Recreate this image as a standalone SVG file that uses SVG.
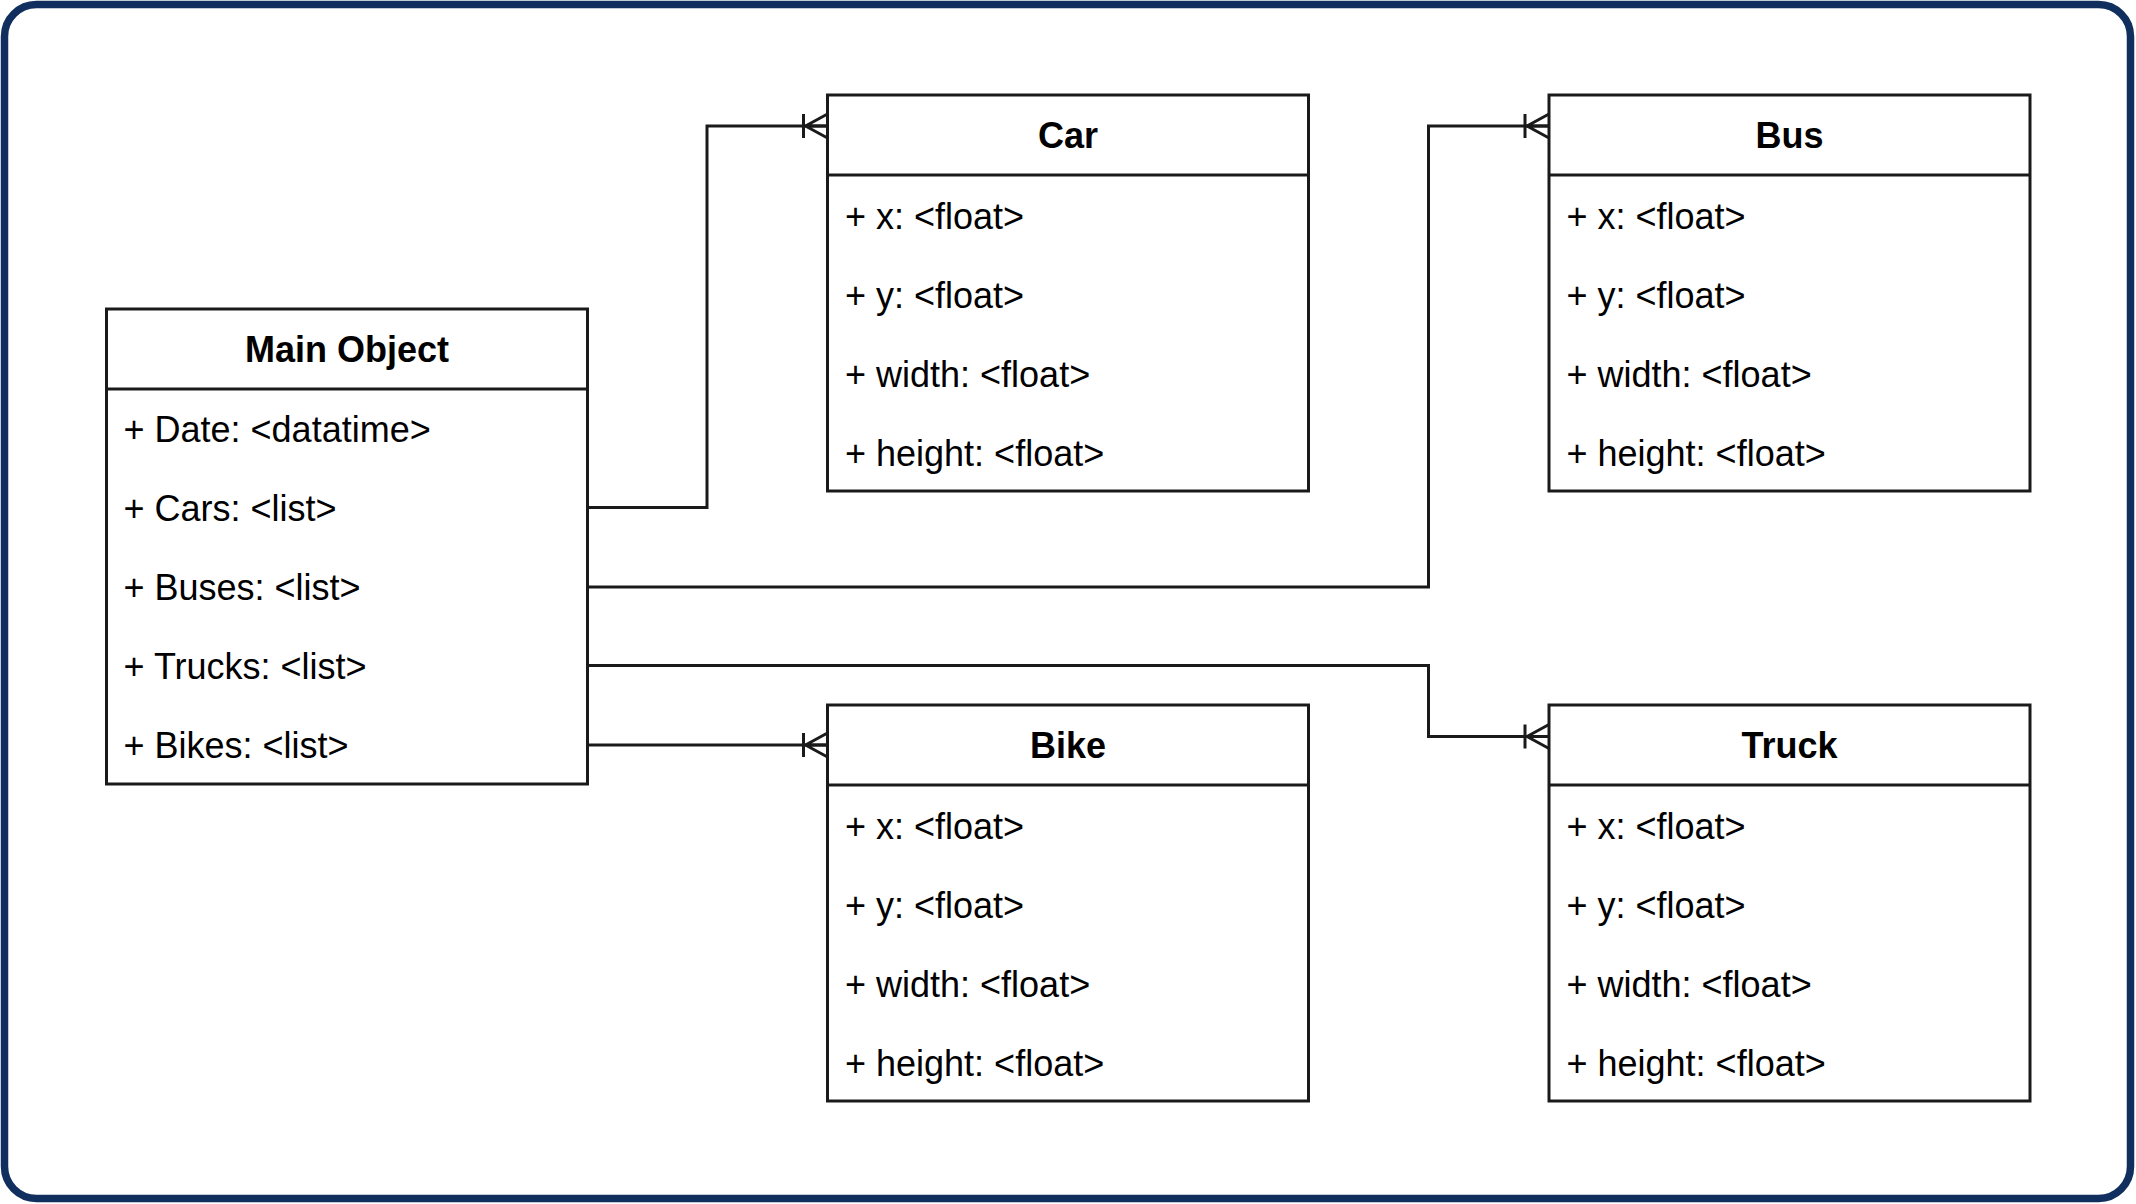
<svg xmlns="http://www.w3.org/2000/svg" width="2136" height="1204" viewBox="0 0 2136 1204">
  <style>
    .box { fill: #ffffff; stroke: #1a1a1a; stroke-width: 3; }
    .sep { stroke: #1a1a1a; stroke-width: 3; }
    .title { font-family: "Liberation Sans", Arial, sans-serif; font-size: 36px; font-weight: bold; fill: #000; text-anchor: middle; }
    .attr { font-family: "Liberation Sans", Arial, sans-serif; font-size: 36px; fill: #000; }
    .conn { fill: none; stroke: #1a1a1a; stroke-width: 3; }
  </style>
  <defs>
    <marker id="many" markerUnits="userSpaceOnUse" markerWidth="40" markerHeight="40" viewBox="-30 -20 40 40" refX="0" refY="0" orient="auto" overflow="visible">
      <path d="M-24,-12 V12 M-22,0 L0,-12 M-22,0 L0,0 M-22,0 L0,12" fill="none" stroke="#1a1a1a" stroke-width="3"/>
    </marker>
  </defs>
  <rect x="4.5" y="4.5" width="2126" height="1194" rx="32" ry="32" fill="#ffffff" stroke="#102e5e" stroke-width="7.5"/>

  <g id="connectors">
    <path class="conn" d="M587.5,507.5 H707 V126 H827.5" marker-end="url(#many)"/>
    <path class="conn" d="M587.5,587 H1428.5 V126 H1549" marker-end="url(#many)"/>
    <path class="conn" d="M587.5,665.5 H1428.5 V736.5 H1549" marker-end="url(#many)"/>
    <path class="conn" d="M587.5,745 H827.5" marker-end="url(#many)"/>
  </g>

  <g id="main-object">
    <rect class="box" x="106.5" y="309" width="481" height="475"/>
    <line class="sep" x1="106.5" y1="389" x2="587.5" y2="389"/>
    <text class="title" x="347" y="361.5">Main Object</text>
    <text class="attr" x="123.5" y="441.5">+ Date: &lt;datatime&gt;</text>
    <text class="attr" x="123.5" y="520.5">+ Cars: &lt;list&gt;</text>
    <text class="attr" x="123.5" y="599.5">+ Buses: &lt;list&gt;</text>
    <text class="attr" x="123.5" y="678.5">+ Trucks: &lt;list&gt;</text>
    <text class="attr" x="123.5" y="757.5">+ Bikes: &lt;list&gt;</text>
  </g>

  <g id="car">
    <rect class="box" x="827.5" y="95" width="481" height="396"/>
    <line class="sep" x1="827.5" y1="175" x2="1308.5" y2="175"/>
    <text class="title" x="1068" y="147.5">Car</text>
    <text class="attr" x="845" y="228.5">+ x: &lt;float&gt;</text>
    <text class="attr" x="845" y="307.5">+ y: &lt;float&gt;</text>
    <text class="attr" x="845" y="386.5">+ width: &lt;float&gt;</text>
    <text class="attr" x="845" y="465.5">+ height: &lt;float&gt;</text>
  </g>

  <g id="bus">
    <rect class="box" x="1549" y="95" width="481" height="396"/>
    <line class="sep" x1="1549" y1="175" x2="2030" y2="175"/>
    <text class="title" x="1789.5" y="147.5">Bus</text>
    <text class="attr" x="1566.5" y="228.5">+ x: &lt;float&gt;</text>
    <text class="attr" x="1566.5" y="307.5">+ y: &lt;float&gt;</text>
    <text class="attr" x="1566.5" y="386.5">+ width: &lt;float&gt;</text>
    <text class="attr" x="1566.5" y="465.5">+ height: &lt;float&gt;</text>
  </g>

  <g id="bike">
    <rect class="box" x="827.5" y="705" width="481" height="396"/>
    <line class="sep" x1="827.5" y1="785" x2="1308.5" y2="785"/>
    <text class="title" x="1068" y="757.5">Bike</text>
    <text class="attr" x="845" y="838.5">+ x: &lt;float&gt;</text>
    <text class="attr" x="845" y="917.5">+ y: &lt;float&gt;</text>
    <text class="attr" x="845" y="996.5">+ width: &lt;float&gt;</text>
    <text class="attr" x="845" y="1075.5">+ height: &lt;float&gt;</text>
  </g>

  <g id="truck">
    <rect class="box" x="1549" y="705" width="481" height="396"/>
    <line class="sep" x1="1549" y1="785" x2="2030" y2="785"/>
    <text class="title" x="1789.5" y="757.5">Truck</text>
    <text class="attr" x="1566.5" y="838.5">+ x: &lt;float&gt;</text>
    <text class="attr" x="1566.5" y="917.5">+ y: &lt;float&gt;</text>
    <text class="attr" x="1566.5" y="996.5">+ width: &lt;float&gt;</text>
    <text class="attr" x="1566.5" y="1075.5">+ height: &lt;float&gt;</text>
  </g>
</svg>
